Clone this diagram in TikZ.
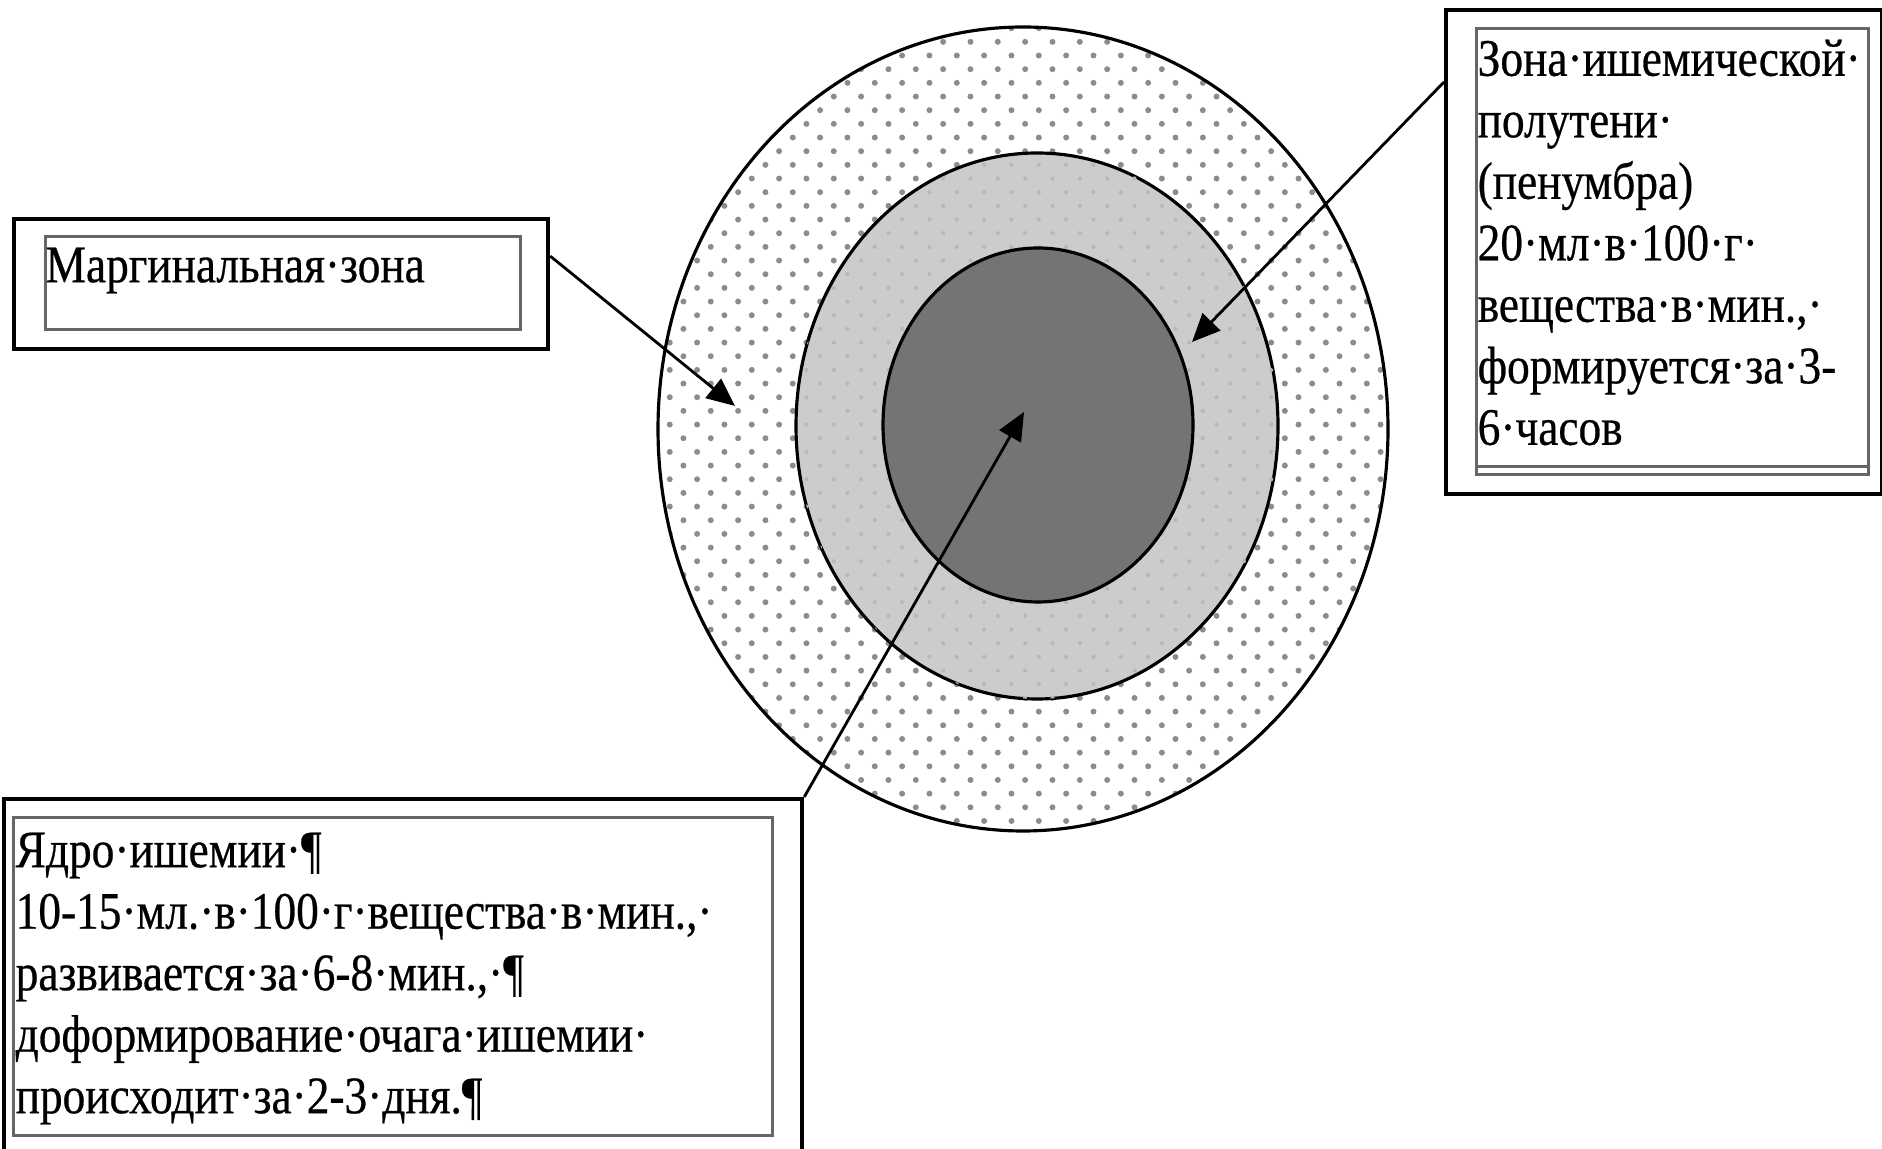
\documentclass[tikz,border=0pt]{standalone}
\usepackage{fontspec}
\setmainfont{Liberation Serif}
\newfontfamily\boxfont{Liberation Serif}[FakeStretch=0.86, FakeBold=0.5]
\usetikzlibrary{positioning,arrows.meta,patterns.meta}
\definecolor{coregray}{RGB}{116,116,116}
\definecolor{midgray}{RGB}{204,204,204}
\definecolor{dotgray}{RGB}{140,140,140}

\begin{document}
\begin{tikzpicture}[>={Triangle[length=8pt,width=7pt]},
  outerbox/.style={draw, line width=1.2pt, anchor=north west, inner sep=0pt},
  innerbox/.style={draw=black!60, line width=0.9pt, anchor=north west, inner sep=0pt},
  zonetext/.style={font=\boxfont\fontsize{15}{17.5}\selectfont, align=left, inner sep=0pt, anchor=north west},
  pointer/.style={->, line width=0.8pt},
  zoneline/.style={line width=0.9pt}]

\useasboundingbox (0,0) rectangle (18.82,11.49);
\clip (0,0) rectangle (18.82,11.49);

% zones of the focus
\draw[zoneline, pattern={Dots[angle=45, distance=5.5pt, radius=0.85pt]}, pattern color=dotgray]
    (10.23,7.20) ellipse [x radius=3.65, y radius=4.02];
\draw[zoneline, fill=midgray, postaction={pattern={Dots[angle=45, distance=5.5pt, radius=0.6pt]}, pattern color=black!28}]
    (10.37,7.23) ellipse [x radius=2.41, y radius=2.73];
\draw[zoneline, fill=coregray] (10.38,7.24) ellipse [x radius=1.55, y radius=1.77];

% marginal zone
\node[outerbox, minimum width=5.34cm, minimum height=1.30cm] (margbox) at (0.12,9.32) {};
\node[innerbox, minimum width=4.75cm, minimum height=0.93cm] (margin) at (0.44,9.14) {};
\node[zonetext] (margtext) at (0.45,9.02) {Маргинальная·зона};

% penumbra
\node[outerbox, minimum width=4.36cm, minimum height=4.84cm] (penbox) at (14.44,11.41) {};
\node[innerbox, minimum width=3.92cm, minimum height=4.46cm] (peninner) at (14.75,11.22) {};
\draw[black!60, line width=0.9pt] ([yshift=0.10cm]peninner.south west) -- ([yshift=0.10cm]peninner.south east);
\node[zonetext] (pentext) at (14.77,11.10) {Зона·ишемической·\\полутени·\\(пенумбра)\\20·мл·в·100·г·\\вещества·в·мин.,·\\формируется·за·3-\\6·часов};

% core
\node[outerbox, minimum width=7.98cm, minimum height=3.70cm] (corebox) at (0.02,3.52) {};
\node[innerbox, minimum width=7.59cm, minimum height=3.18cm] (coreinner) at (0.12,3.33) {};
\node[zonetext] (coretext) at (0.15,3.17) {Ядро·ишемии·¶\\10-15·мл.·в·100·г·вещества·в·мин.,·\\развивается·за·6-8·мин.,·¶\\доформирование·очага·ишемии·\\происходит·за·2-3·дня.¶};

\coordinate (margpt) at (7.35,7.43);
\coordinate (penpt) at (11.92,8.07);
\coordinate (corept) at (10.24,7.37);

\draw[pointer] ([yshift=0.28cm]margbox.east) -- (margpt);
\draw[pointer] ([yshift=-0.74cm]penbox.north west) -- (penpt);
\draw[pointer] (corebox.north east) -- (corept);

\end{tikzpicture}
\end{document}
